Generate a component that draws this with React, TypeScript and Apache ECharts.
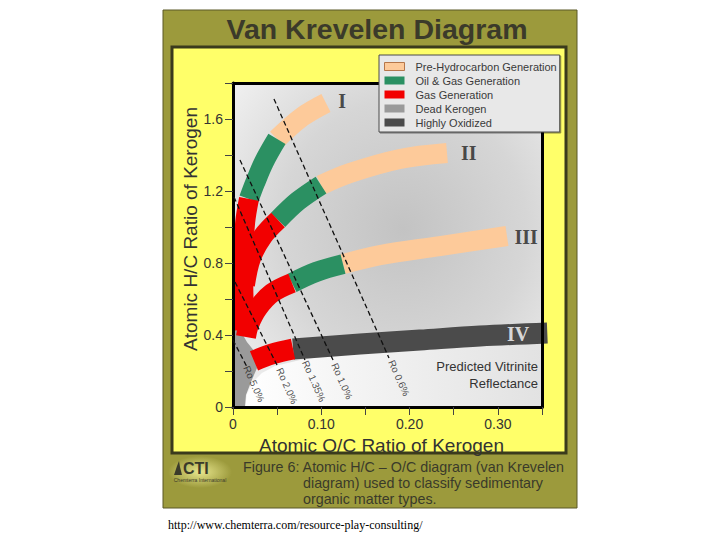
import React, { useEffect, useRef } from "react";
import * as echarts from "echarts";

const SANS = "'Liberation Sans', Arial, Helvetica, sans-serif";
const SERIF = "'Liberation Serif', 'Times New Roman', serif";

// Legend categories and colours
const categoryNames = [
  "Pre-Hydrocarbon Generation",
  "Oil & Gas Generation",
  "Gas Generation",
  "Dead Kerogen",
  "Highly Oxidized",
];
const categoryColors = ["#fdca9a", "#2b9062", "#f20000", "#9a9a9a", "#4b4b4b"];

// Axis ranges / ticks
const xMin = 0, xMax = 0.35, xStep = 0.05;
const yMin = 0, yMax = 1.8, yStep = 0.2;

// Kerogen type bands [O/C, H/C]
const typeIPre = [[0.1053, 1.689], [0.0781, 1.611], [0.0498, 1.489]];
const typeIOil = [[0.0498, 1.489], [0.0351, 1.361], [0.0249, 1.244], [0.0181, 1.156]];
const typeIGas = [[0.0181, 1.156], [0.0138, 1.028], [0.0118, 0.872], [0.0116, 0.706], [0.0121, 0.567], [0.0135, 0.428]];
const typeIIPre = [[0.2424, 1.411], [0.1891, 1.378], [0.1325, 1.3], [0.0997, 1.233]];
const typeIIOil = [[0.0997, 1.233], [0.0736, 1.144], [0.051, 1.039]];
const typeIIGas = [[0.051, 1.039], [0.034, 0.95], [0.0204, 0.828], [0.0135, 0.678]];
const typeIIIPre = [[0.3103, 0.95], [0.2344, 0.894], [0.1665, 0.844], [0.1246, 0.794]];
const typeIIIOil = [[0.1246, 0.794], [0.094, 0.75], [0.0668, 0.689]];
const typeIIIGas = [[0.0668, 0.689], [0.0442, 0.633], [0.0283, 0.55], [0.0181, 0.456], [0.0147, 0.389]];
const typeIVOxid = [[0.356, 0.411], [0.2797, 0.394], [0.2118, 0.372], [0.1438, 0.35], [0.068, 0.322]];
const typeIVGas = [[0.068, 0.322], [0.0442, 0.294], [0.0238, 0.256]];

// Regions
const deadKerogen = [[0, 0.511], [0.0079, 0.428], [0.0158, 0.361], [0.0249, 0.306], [0.0272, 0.217], [0.0204, 0.139], [0.0147, 0.067], [0.0136, 0], [0, 0]];
const paleRegion = [[0.0136, 0], [0.0159, 0.072], [0.0227, 0.139], [0.0328, 0.189], [0.0476, 0.228], [0.0759, 0.261], [0.1438, 0.306], [0.2457, 0.344], [0.35, 0.372], [0.35, 0]];

// Vitrinite reflectance iso-lines
const roLabels = ["Ro 0.6%", "Ro 1.0%", "Ro 1.35%", "Ro 2.0%", "Ro 5.0%"];
const roLines = [
  [[0.0464, 1.711], [0.1767, 0.272]],
  [[0.0079, 1.372], [0.1133, 0.261]],
  [[0.0011, 1.167], [0.0815, 0.261]],
  [[0.0023, 0.694], [0.051, 0.222]],
  [[0.0, 0.372], [0.0159, 0.222]],
];
const roLabelPos = [[0.188, 0.161], [0.1234, 0.144], [0.0917, 0.144], [0.0612, 0.117], [0.0238, 0.128]];

// Kerogen type labels
const typeLabels = ["I", "II", "III", "IV"];
const typeLabelPos = [[0.1235, 1.7], [0.267, 1.411], [0.332, 0.944], [0.323, 0.406]];
const typeLabelColors = ["#222222", "#222222", "#222222", "#ffffff"];

const titleText = "Van Krevelen Diagram";
const xName = "Atomic O/C Ratio of Kerogen";
const yName = "Atomic H/C Ratio of Kerogen";
const captionLines = [
  "Figure 6: Atomic H/C \u2013 O/C diagram (van Krevelen",
  "diagram) used to classify sedimentary",
  "organic matter types.",
];
const sourceUrl = "http://www.chemterra.com/resource-play-consulting/";

function band(name: string, data: number[][], color: string, width = 20) {
  return {
    type: "line",
    name,
    data,
    smooth: 0.35,
    symbol: "none",
    z: 3,
    silent: true,
    color,
    itemStyle: { color },
    lineStyle: { color, width, cap: "butt", join: "round" },
  };
}

function region(name: string, pts: number[][], fill: any, z: number) {
  return {
    type: "custom",
    name,
    z,
    silent: true,
    clip: true,
    itemStyle: { color: typeof fill === "string" ? fill : "#ffffff" },
    data: [pts[0]],
    renderItem: (_p: any, api: any) => ({
      type: "polygon",
      shape: { points: pts.map((p) => api.coord(p)) },
      style: { fill },
    }),
  };
}

const frameAxis = (position: string, isX: boolean) => ({
  type: "value",
  min: isX ? xMin : yMin,
  max: isX ? xMax : yMax,
  position,
  z: 5,
  axisLine: { show: true, onZero: false, lineStyle: { color: "#000", width: 3 } },
  axisTick: { show: false },
  axisLabel: { show: false },
  splitLine: { show: false },
});

export default function App() {
  const ref = useRef<HTMLDivElement>(null);

  useEffect(() => {
    if (!ref.current) return;
    const chart = echarts.init(ref.current, undefined, { renderer: "svg" });
    const [cPre, cOil, cGas, cDead, cOx] = categoryColors;
    const [nPre, nOil, nGas, nDead, nOx] = categoryNames;

    const option: any = {
      animation: false,
      backgroundColor: "#ffffff",
      grid: {
        left: 233,
        right: 178,
        top: 83,
        bottom: 133,
        show: true,
        borderWidth: 0,
        backgroundColor: new echarts.graphic.RadialGradient(0.55, 0.45, 0.8, [
          { offset: 0, color: "#c3c3c3" },
          { offset: 0.5, color: "#d6d6d6" },
          { offset: 1, color: "#f8f8f8" },
        ]),
      },
      legend: {
        orient: "vertical",
        left: 379,
        top: 55,
        z: 20,
        icon: "rect",
        itemWidth: 20,
        itemHeight: 8,
        itemGap: 1,
        selectedMode: false,
        backgroundColor: "#e8e8e8",
        borderColor: "#4a4a4a",
        borderWidth: 1,
        padding: [5, 3, 3, 5],
        shadowColor: "rgba(0,0,0,0.45)",
        shadowOffsetX: 1,
        shadowOffsetY: 1,
        shadowBlur: 1,
        textStyle: { fontFamily: SANS, fontSize: 11, color: "#3a3a3a", lineHeight: 13, padding: [0, 0, 0, 6] },
        data: categoryNames.map((n, i) => ({
          name: n,
          itemStyle: i === 0
            ? { color: categoryColors[i], borderColor: "#b5764a", borderWidth: 1 }
            : { color: categoryColors[i], borderWidth: 0 },
        })),
      },
      xAxis: [
        {
          type: "value",
          min: xMin,
          max: xMax,
          interval: xStep,
          position: "bottom",
          z: 5,
          name: xName,
          nameLocation: "middle",
          nameGap: 20,
          nameTextStyle: { fontFamily: SANS, fontSize: 19, color: "#333333", padding: [0, 12, 0, 0] },
          axisLine: { show: true, onZero: false, lineStyle: { color: "#000", width: 3 } },
          axisTick: { show: true, length: 8, lineStyle: { color: "#444", width: 1 } },
          axisLabel: {
            fontFamily: SANS,
            fontSize: 14,
            color: "#333",
            margin: 10,
            formatter: (v: number) => {
              const k = Math.round(v * 100);
              if (k === 0) return "0";
              return k % 10 === 0 ? (k / 100).toFixed(2) : "";
            },
          },
          splitLine: { show: false },
        },
        frameAxis("top", true),
      ],
      yAxis: [
        {
          type: "value",
          min: yMin,
          max: yMax,
          interval: yStep,
          position: "left",
          z: 5,
          name: yName,
          nameLocation: "middle",
          nameGap: 32,
          nameTextStyle: { fontFamily: SANS, fontSize: 19, color: "#333333", padding: [0, 0, 0, 32] },
          axisLine: { show: true, onZero: false, lineStyle: { color: "#000", width: 3 } },
          axisTick: { show: true, length: 8, lineStyle: { color: "#444", width: 1 } },
          axisLabel: {
            fontFamily: SANS,
            fontSize: 14,
            color: "#333",
            margin: 10,
            formatter: (v: number) => {
              const k = Math.round(v * 10);
              if (k === 0) return "0";
              return k % 4 === 0 ? (k / 10).toFixed(1) : "";
            },
          },
          splitLine: { show: false },
        },
        frameAxis("right", false),
      ],
      series: [
        region(
          "pale",
          paleRegion,
          new echarts.graphic.LinearGradient(0, 0, 1, 0, [
            { offset: 0, color: "#ffffff" },
            { offset: 0.5, color: "#f0f0f0" },
            { offset: 1, color: "#e2e2e2" },
          ]),
          1
        ),
        region(nDead, deadKerogen, cDead, 2),
        band(nPre, typeIPre, cPre),
        band(nOil, typeIOil, cOil),
        band(nGas, typeIGas, cGas),
        band(nPre, typeIIPre, cPre),
        band(nOil, typeIIOil, cOil),
        band(nGas, typeIIGas, cGas),
        band(nPre, typeIIIPre, cPre),
        band(nOil, typeIIIOil, cOil),
        band(nGas, typeIIIGas, cGas),
        band(nOx, typeIVOxid, cOx, 21),
        band(nGas, typeIVGas, cGas, 21),
        ...roLines.map((pts, i) => ({
          type: "line",
          name: roLabels[i],
          data: pts,
          symbol: "none",
          z: 6,
          silent: true,
          lineStyle: { color: "#111", width: 1.3, type: [5, 3] },
        })),
        {
          type: "scatter",
          name: "roText",
          z: 7,
          silent: true,
          symbolSize: 1,
          itemStyle: { color: "rgba(0,0,0,0)" },
          data: roLabelPos.map((p, i) => ({ value: p, name: roLabels[i] })),
          label: {
            show: true,
            position: "inside",
            formatter: "{b}",
            rotate: -66,
            fontFamily: SANS,
            fontSize: 10,
            color: "#222",
          },
        },
        {
          type: "scatter",
          name: "typeText",
          z: 7,
          silent: true,
          symbolSize: 1,
          itemStyle: { color: "rgba(0,0,0,0)" },
          data: typeLabelPos.map((p, i) => ({
            value: p,
            name: typeLabels[i],
            label: { color: typeLabelColors[i] },
          })),
          label: {
            show: true,
            position: "inside",
            formatter: "{b}",
            fontFamily: SERIF,
            fontWeight: "bold",
            fontSize: 20,
          },
        },
      ],
      graphic: [
        {
          type: "rect",
          z: -20,
          silent: true,
          shape: { x: 163, y: 10, width: 414, height: 498 },
          style: { fill: "#9c9a3c", stroke: "#5a5826", lineWidth: 1 },
        },
        {
          type: "rect",
          z: -19,
          silent: true,
          shape: { x: 172, y: 47, width: 394, height: 406 },
          style: { fill: "#ffff69", stroke: "#3a3a1c", lineWidth: 3 },
        },
        {
          type: "text",
          z: 20,
          silent: true,
          style: {
            text: titleText,
            x: 377,
            y: 29,
            align: "center",
            verticalAlign: "middle",
            fontFamily: SANS,
            fontWeight: "bold",
            fontSize: 28.5,
            fill: "#3b3a2a",
          },
        },
        {
          type: "text",
          z: 20,
          silent: true,
          style: {
            text: "Predicted Vitrinite\nReflectance",
            x: 538,
            y: 358,
            align: "right",
            verticalAlign: "top",
            fontFamily: SANS,
            fontSize: 13,
            lineHeight: 17,
            fill: "#333",
          },
        },
        {
          type: "text",
          z: 20,
          silent: true,
          style: { text: captionLines[0], x: 243, y: 467, verticalAlign: "middle", fontFamily: SANS, fontSize: 14.3, fill: "#3a3a2a" },
        },
        {
          type: "text",
          z: 20,
          silent: true,
          style: { text: captionLines[1], x: 303, y: 483, verticalAlign: "middle", fontFamily: SANS, fontSize: 14.3, fill: "#3a3a2a" },
        },
        {
          type: "text",
          z: 20,
          silent: true,
          style: { text: captionLines[2], x: 303, y: 499, verticalAlign: "middle", fontFamily: SANS, fontSize: 14.3, fill: "#3a3a2a" },
        },
        {
          type: "ellipse",
          z: -18,
          silent: true,
          shape: { cx: 200, cy: 472, rx: 32, ry: 16 },
          style: {
            fill: new echarts.graphic.RadialGradient(0.5, 0.5, 0.5, [
              { offset: 0, color: "rgba(240,238,150,0.9)" },
              { offset: 1, color: "rgba(240,238,150,0)" },
            ]),
          },
        },
        {
          type: "polygon",
          z: 20,
          silent: true,
          shape: { points: [[174, 475], [177, 466], [179, 461], [180, 467], [182, 475]] },
          style: { fill: "#3a3a2a" },
        },
        {
          type: "text",
          z: 20,
          silent: true,
          style: { text: "CTI", x: 183, y: 468, verticalAlign: "middle", fontFamily: SANS, fontWeight: "bold", fontSize: 16, fill: "#3a3a2a" },
        },
        {
          type: "text",
          z: 20,
          silent: true,
          style: { text: "Chemterra International", x: 200, y: 480, align: "center", verticalAlign: "middle", fontFamily: SANS, fontSize: 5, fill: "#3a3a2a" },
        },
        {
          type: "text",
          z: 20,
          silent: true,
          style: { text: sourceUrl, x: 168, y: 525, verticalAlign: "middle", fontFamily: SERIF, fontSize: 12, fill: "#000" },
        },
      ],
    };

    chart.setOption(option);
    return () => chart.dispose();
  }, []);

  return (
    <div
      ref={ref}
      style={{ position: "fixed", left: 0, top: 0, width: 720, height: 540, background: "#fff" }}
    />
  );
}
